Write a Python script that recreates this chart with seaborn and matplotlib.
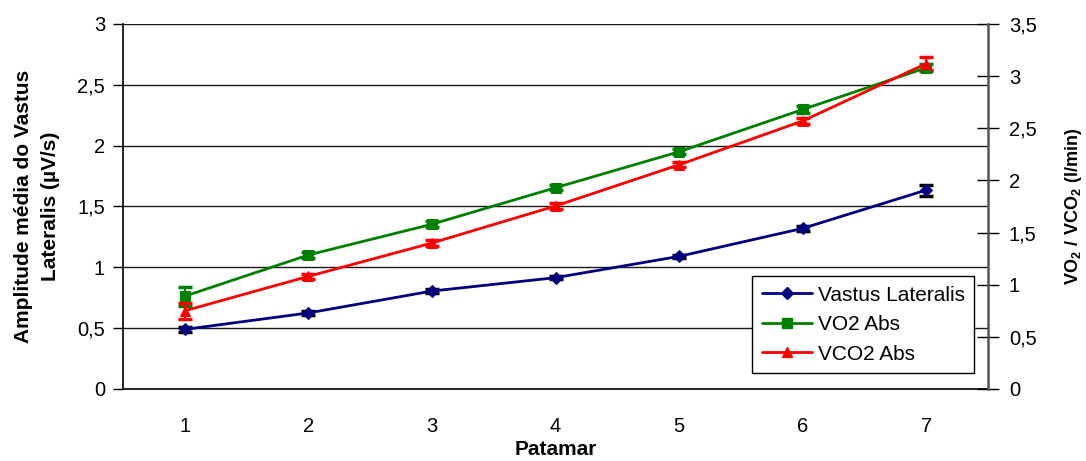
import matplotlib
matplotlib.use("Agg")
import matplotlib.pyplot as plt
import seaborn as sns
import pandas as pd
from matplotlib.lines import Line2D
from matplotlib.ticker import FixedLocator, FuncFormatter

sns.set_theme(style="white")
plt.rcParams["font.family"] = ["Liberation Sans", "DejaVu Sans"]
plt.rcParams["mathtext.fontset"] = "custom"
plt.rcParams["mathtext.rm"] = "Liberation Sans"
plt.rcParams["mathtext.bf"] = "Liberation Sans:bold"
plt.rcParams["text.color"] = "black"
plt.rcParams["axes.labelcolor"] = "black"

# Stages (patamar)
patamar = [1, 2, 3, 4, 5, 6, 7]

# Mean EMG amplitude of vastus lateralis (µV/s), left axis
vl_mean = [0.49, 0.625, 0.805, 0.915, 1.09, 1.32, 1.635]
vl_err = [0.02, 0.015, 0.015, 0.015, 0.015, 0.02, 0.045]

# Absolute VO2 and VCO2 (l/min), right axis
vo2_mean = [0.89, 1.285, 1.58, 1.93, 2.275, 2.68, 3.08]
vo2_err = [0.09, 0.025, 0.03, 0.025, 0.025, 0.03, 0.035]
vco2_mean = [0.75, 1.08, 1.40, 1.755, 2.15, 2.57, 3.12]
vco2_err = [0.075, 0.025, 0.03, 0.025, 0.025, 0.03, 0.06]

labels = ["Vastus Lateralis", "VO2 Abs", "VCO2 Abs"]
colors = {"Vastus Lateralis": "#000080", "VO2 Abs": "#008000", "VCO2 Abs": "#FF0000"}
markers = {"Vastus Lateralis": "D", "VO2 Abs": "s", "VCO2 Abs": "^"}
msizes = {"Vastus Lateralis": 6.5, "VO2 Abs": 7, "VCO2 Abs": 7.5}

left_df = pd.DataFrame({"Patamar": patamar, "valor": vl_mean, "serie": labels[0]})
right_df = pd.concat([
    pd.DataFrame({"Patamar": patamar, "valor": vo2_mean, "serie": labels[1]}),
    pd.DataFrame({"Patamar": patamar, "valor": vco2_mean, "serie": labels[2]}),
])

fig = plt.figure(figsize=(10.86, 4.61), dpi=100)
ax = fig.add_axes([0.1133, 0.1562, 0.7965, 0.7918])
ax2 = ax.twinx()

# Horizontal gridlines on the left axis
for v in [0.5, 1, 1.5, 2, 2.5, 3]:
    ax.axhline(v, color="#1a1a1a", lw=1.0, zorder=0)

ts = 14.5
fmt = FuncFormatter(lambda v, p: (f"{v:g}").replace(".", ","))

# Left series
sns.lineplot(data=left_df, x="Patamar", y="valor", ax=ax, color=colors[labels[0]],
             marker=markers[labels[0]], markersize=msizes[labels[0]], lw=2,
             markeredgecolor=colors[labels[0]], legend=False, zorder=3)
ax.errorbar(patamar, vl_mean, yerr=vl_err, fmt="none", ecolor="black",
            elinewidth=1.5, capsize=5, capthick=2.5, zorder=2)

# Right series
for name, m, e in [(labels[1], vo2_mean, vo2_err), (labels[2], vco2_mean, vco2_err)]:
    sub = right_df[right_df["serie"] == name]
    sns.lineplot(data=sub, x="Patamar", y="valor", ax=ax2, color=colors[name],
                 marker=markers[name], markersize=msizes[name], lw=2,
                 markeredgecolor=colors[name], legend=False, zorder=3)
    ax2.errorbar(patamar, m, yerr=e, fmt="none", ecolor=colors[name],
                 elinewidth=1.5, capsize=5, capthick=2.5, zorder=2)

ax.set_xlim(0.5, 7.5)
ax.set_ylim(0, 3)
ax2.set_ylim(0, 3.5)

ax.set_yticks([0, 0.5, 1, 1.5, 2, 2.5, 3])
ax.yaxis.set_major_formatter(fmt)
ax2.set_yticks([0, 0.5, 1, 1.5, 2, 2.5, 3, 3.5])
ax2.yaxis.set_major_formatter(fmt)

# Category labels centred, tick marks at category boundaries
ax.set_xticks(patamar)
ax.set_xticklabels([str(p) for p in patamar])
ax.xaxis.set_minor_locator(FixedLocator([x + 0.5 for x in range(0, 8)]))
ax.tick_params(axis="x", which="major", length=0, pad=20, labelsize=ts, colors="black")
ax.tick_params(axis="x", which="minor", length=5, width=1, direction="out", color="black")
ax.tick_params(axis="y", which="major", length=7, width=1, direction="out",
               labelsize=ts, pad=6, colors="black")
ax2.tick_params(axis="y", which="major", length=16, width=1, direction="inout",
                labelsize=ts, pad=7, colors="black")

for s in ["left", "bottom"]:
    ax.spines[s].set_color("black")
    ax.spines[s].set_linewidth(1.2)
ax.spines["top"].set_visible(False)
ax.spines["right"].set_visible(False)
ax2.spines["top"].set_visible(False)
ax2.spines["left"].set_visible(False)
ax2.spines["bottom"].set_visible(False)
ax2.spines["right"].set_color("#555555")
ax2.spines["right"].set_linewidth(1.8)
ax.grid(False)
ax2.grid(False)

ax.set_xlabel("Patamar", fontsize=15, fontweight="bold", labelpad=3)
ax.set_ylabel("Amplitude média do Vastus\nLateralis (µV/s)", fontsize=15,
              fontweight="bold", linespacing=1.55)
ax.yaxis.set_label_coords(-0.073, 0.5)
ax2.set_ylabel(r"$\mathbf{VO_2\ /\ VCO_2\ (l/min)}$", fontsize=13)
ax2.yaxis.set_label_coords(1.087, 0.5)

handles = [Line2D([0], [0], color=colors[n], lw=2, marker=markers[n],
                  markersize=msizes[n], markeredgecolor=colors[n]) for n in labels]
leg = ax2.legend(handles, labels, loc="lower right", bbox_to_anchor=(0.984, 0.044),
                 fontsize=15, frameon=True, fancybox=False, framealpha=1,
                 edgecolor="black", handlelength=2.4, borderpad=0.45,
                 labelspacing=0.5, handletextpad=0.3, borderaxespad=0)
leg.get_frame().set_linewidth(1.0)

fig.savefig("out.png", dpi=100)
